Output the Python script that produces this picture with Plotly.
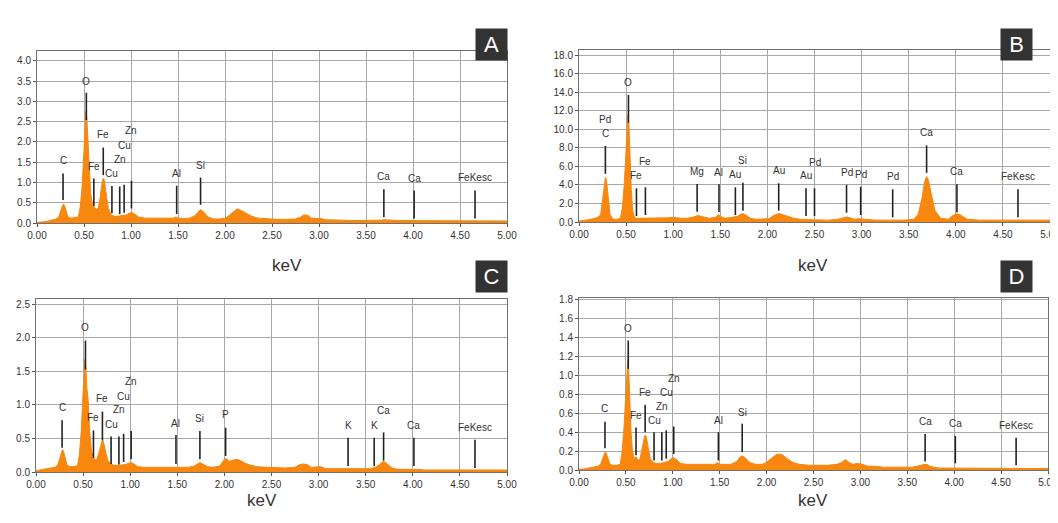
import plotly.graph_objects as go

# ---------------- data ----------------
energy_kev = [0.00, 0.05, 0.10, 0.15, 0.20, 0.23, 0.25, 0.27, 0.28, 0.29,
              0.31, 0.33, 0.36, 0.40, 0.44, 0.46, 0.48, 0.50, 0.51, 0.52,
              0.53, 0.54, 0.555, 0.57, 0.59, 0.61, 0.63, 0.65, 0.67, 0.69,
              0.70, 0.71, 0.72, 0.74, 0.76, 0.79, 0.83, 0.87, 0.91, 0.95,
              0.98, 1.01, 1.04, 1.08, 1.15, 1.22, 1.26, 1.30, 1.38, 1.45,
              1.48, 1.50, 1.55, 1.62, 1.68, 1.72, 1.74, 1.77, 1.82, 1.88,
              1.95, 2.00, 2.02, 2.05, 2.10, 2.13, 2.17, 2.22, 2.28, 2.35,
              2.45, 2.55, 2.65, 2.75, 2.80, 2.84, 2.88, 2.92, 2.97, 3.02,
              3.08, 3.15, 3.25, 3.35, 3.45, 3.55, 3.60, 3.64, 3.67, 3.69,
              3.71, 3.74, 3.78, 3.84, 3.92, 3.97, 4.01, 4.05, 4.12, 4.25,
              4.45, 4.65, 4.85, 5.00]

counts_a = [0.01, 0.02, 0.04, 0.07, 0.10, 0.14, 0.30, 0.42, 0.46, 0.45,
            0.30, 0.15, 0.12, 0.13, 0.15, 0.40, 0.90, 1.80, 2.40, 2.75,
            2.60, 2.10, 1.30, 0.75, 0.45, 0.38, 0.34, 0.36, 0.60, 0.95,
            1.08, 1.10, 1.00, 0.65, 0.35, 0.20, 0.16, 0.17, 0.18, 0.20,
            0.24, 0.26, 0.22, 0.15, 0.12, 0.12, 0.11, 0.12, 0.11, 0.12,
            0.15, 0.12, 0.11, 0.12, 0.18, 0.30, 0.33, 0.28, 0.15, 0.10,
            0.10, 0.12, 0.14, 0.20, 0.30, 0.35, 0.31, 0.24, 0.17, 0.12,
            0.10, 0.09, 0.09, 0.10, 0.14, 0.20, 0.19, 0.12, 0.11, 0.11,
            0.08, 0.07, 0.07, 0.06, 0.06, 0.06, 0.06, 0.07, 0.07, 0.08,
            0.08, 0.07, 0.07, 0.06, 0.06, 0.05, 0.05, 0.05, 0.05, 0.05,
            0.05, 0.05, 0.05, 0.05]

counts_b = [0.10, 0.15, 0.25, 0.35, 0.50, 0.80, 2.50, 4.20, 4.80, 4.60,
            3.00, 0.80, 0.30, 0.30, 0.40, 1.50, 4.00, 8.00, 10.5, 11.6,
            10.5, 7.50, 3.50, 1.20, 0.50, 0.40, 0.40, 0.40, 0.45, 0.45,
            0.45, 0.45, 0.45, 0.45, 0.45, 0.45, 0.45, 0.45, 0.45, 0.45,
            0.50, 0.50, 0.45, 0.40, 0.40, 0.55, 0.70, 0.60, 0.40, 0.50,
            0.80, 0.60, 0.40, 0.50, 0.60, 0.85, 0.90, 0.75, 0.40, 0.30,
            0.30, 0.30, 0.35, 0.60, 0.85, 0.90, 0.80, 0.60, 0.40, 0.30,
            0.25, 0.20, 0.20, 0.30, 0.40, 0.55, 0.45, 0.30, 0.35, 0.30,
            0.20, 0.20, 0.20, 0.20, 0.20, 0.30, 0.80, 2.50, 4.40, 4.90,
            4.50, 3.00, 1.20, 0.40, 0.30, 0.70, 0.90, 0.75, 0.30, 0.20,
            0.20, 0.20, 0.20, 0.20]

counts_c = [0.02, 0.03, 0.04, 0.05, 0.07, 0.10, 0.20, 0.30, 0.33, 0.32,
            0.22, 0.10, 0.08, 0.08, 0.09, 0.25, 0.60, 1.20, 1.50, 1.68,
            1.55, 1.25, 1.05, 0.60, 0.30, 0.22, 0.18, 0.20, 0.30, 0.42,
            0.46, 0.47, 0.43, 0.30, 0.18, 0.12, 0.10, 0.10, 0.10, 0.11,
            0.13, 0.14, 0.12, 0.08, 0.07, 0.07, 0.07, 0.07, 0.07, 0.07,
            0.08, 0.07, 0.07, 0.07, 0.09, 0.13, 0.14, 0.12, 0.08, 0.07,
            0.09, 0.19, 0.20, 0.16, 0.18, 0.19, 0.17, 0.13, 0.10, 0.08,
            0.07, 0.06, 0.06, 0.07, 0.11, 0.12, 0.11, 0.07, 0.08, 0.08,
            0.05, 0.05, 0.05, 0.05, 0.05, 0.05, 0.07, 0.10, 0.14, 0.16,
            0.14, 0.10, 0.06, 0.04, 0.04, 0.04, 0.05, 0.04, 0.03, 0.03,
            0.03, 0.03, 0.03, 0.03]

counts_d = [0.01, 0.01, 0.02, 0.03, 0.04, 0.06, 0.12, 0.17, 0.19, 0.18,
            0.12, 0.06, 0.05, 0.05, 0.06, 0.20, 0.45, 0.85, 1.05, 1.17,
            1.05, 0.75, 0.40, 0.20, 0.12, 0.14, 0.10, 0.12, 0.22, 0.33,
            0.36, 0.37, 0.34, 0.22, 0.12, 0.08, 0.07, 0.07, 0.08, 0.09,
            0.12, 0.13, 0.11, 0.07, 0.06, 0.06, 0.06, 0.06, 0.06, 0.06,
            0.08, 0.06, 0.06, 0.06, 0.09, 0.14, 0.15, 0.13, 0.08, 0.06,
            0.06, 0.08, 0.10, 0.12, 0.16, 0.17, 0.16, 0.12, 0.08, 0.06,
            0.05, 0.05, 0.05, 0.06, 0.08, 0.11, 0.08, 0.06, 0.07, 0.06,
            0.04, 0.04, 0.03, 0.03, 0.03, 0.03, 0.04, 0.05, 0.06, 0.06,
            0.06, 0.04, 0.03, 0.02, 0.02, 0.02, 0.02, 0.02, 0.02, 0.02,
            0.02, 0.015, 0.015, 0.015]

# element markers: (energy, label, line bottom, line top, label y)
markers_a = [(0.277, "C", 0.57, 1.22, 1.54), (0.525, "O", 2.54, 3.21, 3.50),
             (0.605, "Fe", 0.42, 1.10, 1.40), (0.705, "Fe", 1.18, 1.86, 2.18),
             (0.797, "Cu", 0.24, 0.91, 1.22), (0.880, "Zn", 0.22, 0.90, 1.57),
             (0.927, "Cu", 0.25, 0.94, 1.90), (1.005, "Zn", 0.36, 1.04, 2.27),
             (1.486, "Al", 0.22, 0.92, 1.22), (1.740, "Si", 0.45, 1.12, 1.42),
             (3.690, "Ca", 0.14, 0.83, 1.14), (4.012, "Ca", 0.11, 0.80, 1.10),
             (4.660, "FeKesc", 0.11, 0.80, 1.12)]

markers_b = [(0.280, "C", 5.2, 8.2, 9.5), (0.525, "O", 10.7, 13.7, 15.0),
             (0.610, "Fe", 0.65, 3.63, 4.96), (0.705, "Fe", 0.75, 3.74, 6.47),
             (1.254, "Mg", 1.11, 4.10, 5.43), (1.486, "Al", 1.08, 4.06, 5.30),
             (1.660, "Au", 0.75, 3.74, 5.07), (1.740, "Si", 1.22, 4.24, 6.60),
             (2.120, "Au", 1.22, 4.17, 5.50), (2.410, "Au", 0.65, 3.63, 4.96),
             (2.500, "Pd", 0.65, 3.63, 6.43), (2.840, "Pd", 1.00, 4.00, 5.35),
             (2.990, "Pd", 0.75, 3.80, 5.07), (3.330, "Pd", 0.50, 3.52, 4.90),
             (3.690, "Ca", 5.30, 8.26, 9.60), (4.012, "Ca", 1.04, 4.06, 5.43),
             (4.660, "FeKesc", 0.50, 3.52, 4.90)]
extra_labels_b = [(0.280, "Pd", 11.0)]

markers_c = [(0.277, "C", 0.36, 0.77, 0.96), (0.525, "O", 1.53, 1.96, 2.15),
             (0.610, "Fe", 0.21, 0.62, 0.81), (0.705, "Fe", 0.47, 0.90, 1.10),
             (0.797, "Cu", 0.12, 0.53, 0.71), (0.880, "Zn", 0.11, 0.53, 0.93),
             (0.930, "Cu", 0.15, 0.57, 1.13), (1.010, "Zn", 0.19, 0.61, 1.35),
             (1.486, "Al", 0.12, 0.55, 0.72), (1.740, "Si", 0.19, 0.61, 0.80),
             (2.013, "P", 0.24, 0.66, 0.86), (3.313, "K", 0.09, 0.51, 0.70),
             (3.590, "K", 0.09, 0.51, 0.70), (3.690, "Ca", 0.17, 0.59, 0.91),
             (4.012, "Ca", 0.09, 0.51, 0.70), (4.660, "FeKesc", 0.06, 0.48, 0.67)]

markers_d = [(0.277, "C", 0.23, 0.51, 0.65), (0.525, "O", 1.07, 1.37, 1.50),
             (0.608, "Fe", 0.155, 0.45, 0.58), (0.705, "Fe", 0.40, 0.69, 0.82),
             (0.800, "Cu", 0.10, 0.40, 0.52), (0.883, "Zn", 0.10, 0.40, 0.67),
             (0.930, "Cu", 0.12, 0.42, 0.82), (1.010, "Zn", 0.17, 0.46, 0.97),
             (1.486, "Al", 0.10, 0.40, 0.52), (1.740, "Si", 0.19, 0.49, 0.61),
             (3.690, "Ca", 0.09, 0.38, 0.51), (4.012, "Ca", 0.07, 0.36, 0.49),
             (4.660, "FeKesc", 0.05, 0.34, 0.47)]

y_ranges = {"A": [0, 4.24], "B": [0, 18.54], "C": [0, 2.58], "D": [0, 1.82]}
y_dticks = {"A": 0.5, "B": 2.0, "C": 0.5, "D": 0.2}
panel_letters = ["A", "B", "C", "D"]

# ---------------- layout geometry (window pixels) ----------------
PAGE_MARGIN = 8          # default body margin of the html page
W, H = 1058 - PAGE_MARGIN, 523 - PAGE_MARGIN
panels = {
    "A": dict(x0=37, x1=507, y0=51, y1=223, ax="", box=(491, 28), kev=(270, 265)),
    "B": dict(x0=579, x1=1050, y0=50, y1=222, ax="2", box=(1033, 28), kev=(830, 265)),
    "C": dict(x0=36, x1=507, y0=299, y1=472, ax="3", box=(491, 276), kev=(245, 512)),
    "D": dict(x0=579, x1=1048, y0=298, y1=470, ax="4", box=(1033, 276), kev=(830, 512)),
}


def px(v):
    return (v - PAGE_MARGIN) / W


def py(v):
    return 1 - (v - PAGE_MARGIN) / H


spectra = {"A": counts_a, "B": counts_b, "C": counts_c, "D": counts_d}
markers = {"A": markers_a, "B": markers_b, "C": markers_c, "D": markers_d}

ORANGE = "#F7870F"
FONT = "Liberation Sans, Arial, sans-serif"
fig = go.Figure()
annotations = []
layout_axes = {}

for key in panel_letters:
    p = panels[key]
    ax = p["ax"]
    xref, yref = "x" + ax, "y" + ax
    fig.add_trace(go.Scatter(
        x=energy_kev, y=spectra[key], mode="lines", fill="tozeroy",
        line=dict(color=ORANGE, width=1), fillcolor=ORANGE,
        xaxis=xref, yaxis=yref, showlegend=False, hoverinfo="skip"))
    lx, ly = [], []
    for (e, lab, yb, yt, yl) in markers[key]:
        lx += [e, e, None]
        ly += [yb, yt, None]
        annotations.append(dict(x=e, y=yl, xref=xref, yref=yref, text=lab,
                                showarrow=False,
                                font=dict(size=10, color="#333333", family=FONT)))
    fig.add_trace(go.Scatter(x=lx, y=ly, mode="lines",
                             line=dict(color="#222222", width=1.6),
                             xaxis=xref, yaxis=yref, showlegend=False, hoverinfo="skip"))
    if key == "B":
        for (e, lab, yl) in extra_labels_b:
            annotations.append(dict(x=e, y=yl, xref=xref, yref=yref, text=lab,
                                    showarrow=False,
                                    font=dict(size=10, color="#333333", family=FONT)))
    common = dict(showgrid=True, gridcolor="#A8A8A8", gridwidth=1,
                  showline=True, linecolor="#707070", linewidth=1, mirror=True,
                  ticks="outside", ticklen=3, tickcolor="#555555",
                  tickfont=dict(size=10, color="#333333", family=FONT),
                  ticklabeloverflow="allow",
                  zeroline=False, fixedrange=True, automargin=False)
    xname = "xaxis" + ax
    yname = "yaxis" + ax
    layout_axes[xname] = dict(common, domain=[px(p["x0"]), px(p["x1"])],
                              range=[0, 5], dtick=0.5, tick0=0, tickformat=".2f",
                              anchor=yref)
    layout_axes[yname] = dict(common, domain=[py(p["y1"]), py(p["y0"])],
                              range=y_ranges[key], dtick=y_dticks[key], tick0=0,
                              tickformat=".1f", anchor=xref)
    bx, by = p["box"]
    annotations.append(dict(x=px(bx), y=py(by), xref="paper", yref="paper",
                            text=key, showarrow=False, bgcolor="#333333",
                            width=31, height=31, borderpad=0,
                            font=dict(size=22, color="white", family=FONT)))
    kx, ky = p["kev"]
    annotations.append(dict(x=px(kx), y=py(ky), xref="paper", yref="paper",
                            text="keV", showarrow=False,
                            font=dict(size=17, color="#333333", family=FONT)))

fig.update_layout(width=W, height=H,
                  margin=dict(l=0, r=0, t=0, b=0, autoexpand=False),
                  paper_bgcolor="white", plot_bgcolor="white",
                  annotations=annotations, **layout_axes)

fig.write_html("out.html")
